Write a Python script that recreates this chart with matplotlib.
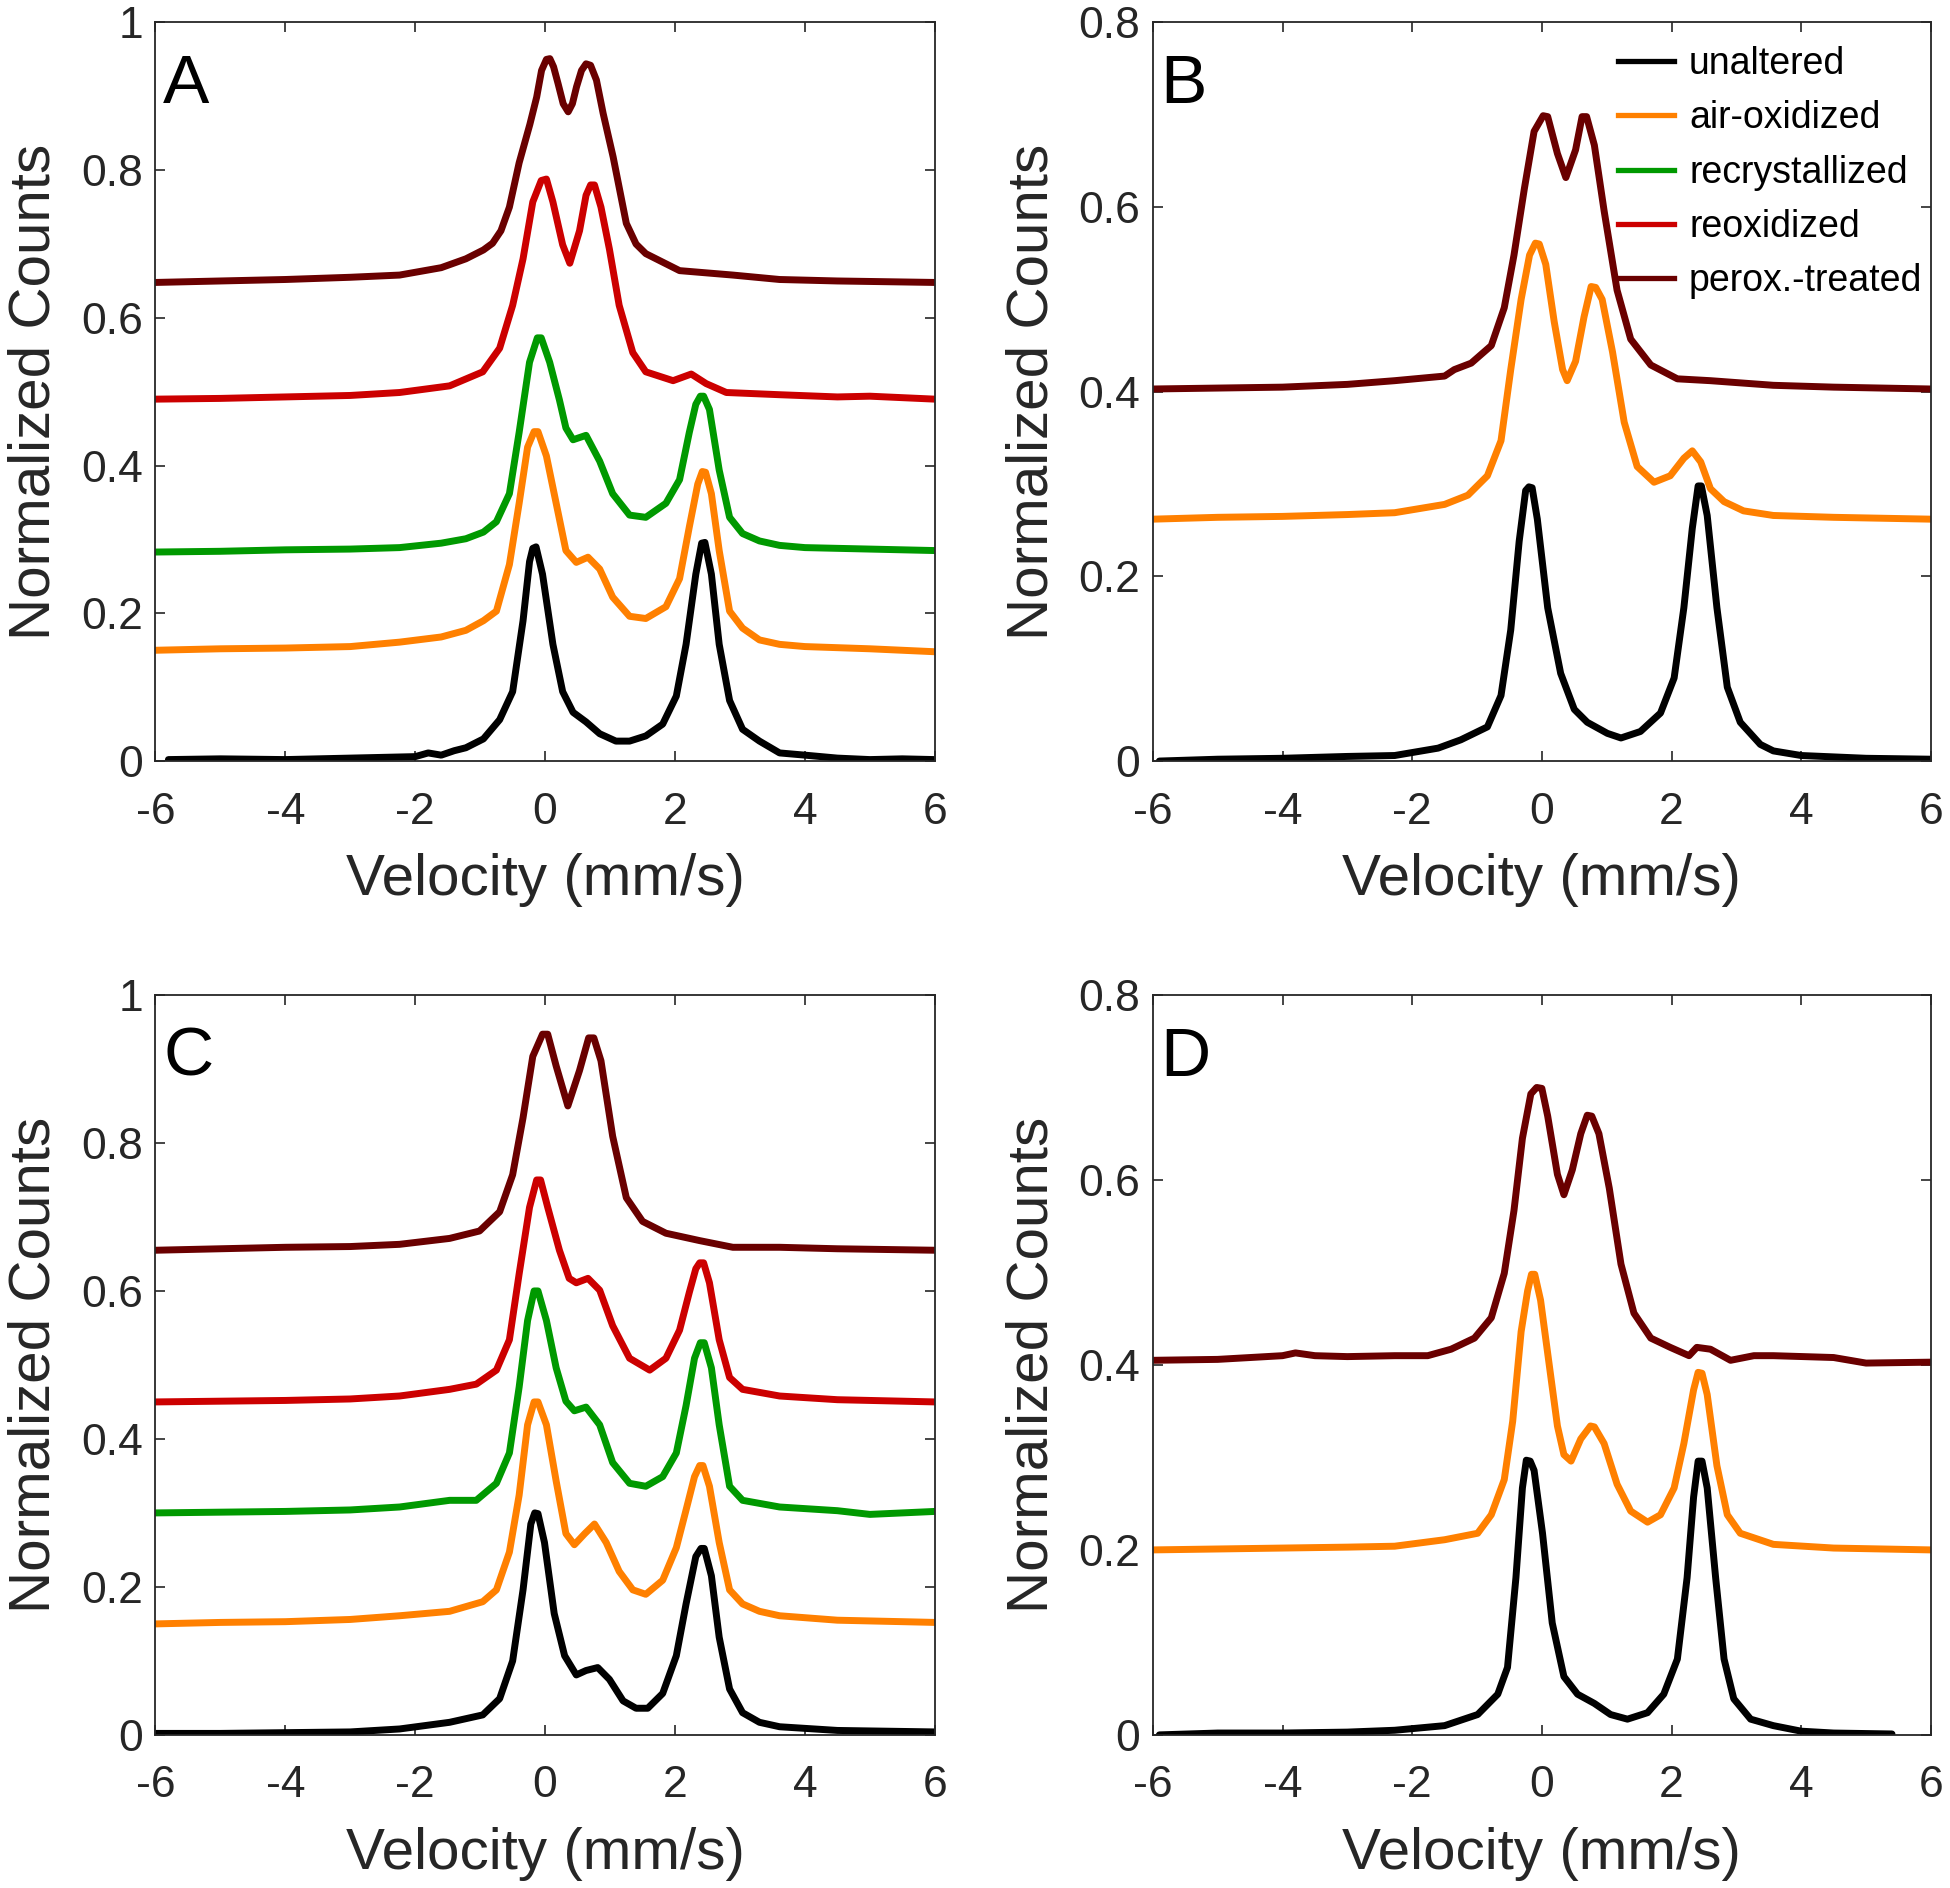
import matplotlib
matplotlib.use("Agg")
import matplotlib.pyplot as plt
from matplotlib.lines import Line2D
from matplotlib.ticker import FuncFormatter

plt.rcParams['font.family'] = ['Liberation Sans', 'DejaVu Sans']

# ---------------- data (velocity mm/s, normalized counts) ----------------
A_unaltered = [(-5.8,0.002),(-5,0.003),(-4,0.002),(-3,0.004),(-2,0.006),(-1.8,0.011),(-1.6,0.008),(-1.4,0.014),(-1.22,0.018),(-0.95,0.03),(-0.70,0.056),(-0.50,0.094),(-0.34,0.19),(-0.24,0.27),(-0.19,0.288),(-0.14,0.290),(-0.04,0.253),(0.12,0.158),(0.27,0.094),(0.43,0.066),(0.63,0.053),(0.84,0.037),(1.09,0.027),(1.30,0.027),(1.55,0.034),(1.81,0.05),(2.02,0.088),(2.17,0.158),(2.32,0.253),(2.41,0.295),(2.46,0.296),(2.56,0.253),(2.68,0.158),(2.84,0.082),(3.04,0.043),(3.30,0.027),(3.61,0.011),(4,0.008),(4.5,0.004),(5,0.002),(5.5,0.003),(6,0.002)]
A_air = [(-6,0.150),(-5,0.152),(-4,0.153),(-3,0.155),(-2.24,0.161),(-1.6,0.168),(-1.22,0.177),(-0.95,0.19),(-0.75,0.203),(-0.55,0.266),(-0.40,0.349),(-0.27,0.425),(-0.17,0.446),(-0.11,0.446),(0.02,0.413),(0.17,0.349),(0.32,0.285),(0.48,0.269),(0.66,0.276),(0.84,0.26),(1.04,0.222),(1.30,0.196),(1.55,0.193),(1.86,0.209),(2.07,0.247),(2.22,0.317),(2.35,0.375),(2.42,0.392),(2.47,0.391),(2.56,0.362),(2.68,0.285),(2.84,0.203),(3.04,0.18),(3.30,0.164),(3.61,0.158),(4,0.155),(5,0.152),(6,0.148)]
A_recryst = [(-6,0.283),(-5,0.284),(-4,0.286),(-3,0.287),(-2.24,0.289),(-1.6,0.295),(-1.22,0.301),(-0.95,0.31),(-0.75,0.324),(-0.55,0.362),(-0.40,0.445),(-0.24,0.54),(-0.12,0.573),(-0.06,0.573),(0.07,0.54),(0.22,0.489),(0.32,0.451),(0.43,0.435),(0.63,0.441),(0.84,0.406),(1.04,0.362),(1.30,0.333),(1.55,0.33),(1.86,0.349),(2.07,0.381),(2.22,0.445),(2.32,0.483),(2.39,0.494),(2.44,0.494),(2.53,0.476),(2.68,0.394),(2.84,0.33),(3.04,0.308),(3.30,0.298),(3.61,0.292),(4,0.289),(5,0.287),(6,0.285)]
A_reox = [(-6,0.490),(-5,0.491),(-4,0.493),(-3,0.495),(-2.24,0.499),(-1.47,0.508),(-0.96,0.527),(-0.70,0.559),(-0.50,0.617),(-0.34,0.68),(-0.19,0.757),(-0.06,0.786),(0.02,0.788),(0.12,0.757),(0.27,0.699),(0.38,0.674),(0.53,0.718),(0.63,0.766),(0.70,0.780),(0.76,0.780),(0.86,0.75),(0.99,0.693),(1.14,0.617),(1.35,0.553),(1.55,0.527),(1.97,0.515),(2.25,0.524),(2.48,0.511),(2.79,0.499),(3.61,0.496),(4.5,0.493),(5,0.494),(6,0.490)]
A_perox = [(-6,0.648),(-5,0.650),(-4,0.652),(-3,0.655),(-2.24,0.658),(-1.6,0.668),(-1.22,0.68),(-0.95,0.692),(-0.81,0.701),(-0.68,0.718),(-0.55,0.75),(-0.40,0.810),(-0.235,0.862),(-0.13,0.899),(-0.055,0.935),(0.02,0.950),(0.073,0.951),(0.13,0.940),(0.20,0.917),(0.278,0.890),(0.355,0.879),(0.42,0.89),(0.484,0.913),(0.56,0.935),(0.63,0.944),(0.70,0.942),(0.79,0.922),(0.893,0.877),(1.047,0.818),(1.25,0.728),(1.40,0.700),(1.55,0.687),(2.07,0.664),(2.89,0.658),(3.61,0.652),(4.5,0.650),(6,0.648)]

B_unaltered = [(-5.9,0.0),(-5,0.002),(-4,0.003),(-3,0.005),(-2.27,0.006),(-1.6,0.014),(-1.25,0.023),(-0.84,0.037),(-0.63,0.071),(-0.48,0.142),(-0.35,0.238),(-0.25,0.293),(-0.20,0.297),(-0.15,0.296),(-0.07,0.262),(0.09,0.166),(0.29,0.095),(0.50,0.056),(0.70,0.042),(1.01,0.03),(1.22,0.025),(1.52,0.032),(1.83,0.052),(2.04,0.09),(2.19,0.166),(2.32,0.252),(2.41,0.298),(2.46,0.298),(2.55,0.266),(2.70,0.166),(2.86,0.08),(3.06,0.042),(3.37,0.018),(3.57,0.011),(4,0.006),(5,0.003),(6,0.002)]
B_air = [(-6,0.262),(-5,0.264),(-4,0.265),(-3,0.267),(-2.27,0.269),(-1.50,0.278),(-1.14,0.288),(-0.84,0.309),(-0.63,0.347),(-0.48,0.424),(-0.32,0.50),(-0.19,0.548),(-0.10,0.561),(-0.04,0.560),(0.06,0.538),(0.19,0.476),(0.32,0.424),(0.39,0.412),(0.52,0.433),(0.65,0.481),(0.76,0.514),(0.83,0.513),(0.93,0.50),(1.09,0.443),(1.27,0.367),(1.47,0.319),(1.73,0.302),(1.98,0.309),(2.19,0.328),(2.32,0.336),(2.45,0.324),(2.60,0.295),(2.81,0.281),(3.11,0.271),(3.57,0.266),(4.5,0.264),(6,0.262)]
B_perox = [(-6,0.403),(-5,0.404),(-4,0.405),(-3,0.408),(-2.27,0.412),(-1.50,0.417),(-1.35,0.424),(-1.09,0.431),(-0.78,0.45),(-0.58,0.491),(-0.43,0.548),(-0.27,0.62),(-0.12,0.682),(0.02,0.699),(0.09,0.698),(0.24,0.658),(0.37,0.632),(0.52,0.662),(0.62,0.698),(0.69,0.698),(0.81,0.667),(0.96,0.596),(1.16,0.51),(1.37,0.457),(1.68,0.429),(2.09,0.414),(2.60,0.412),(3.57,0.407),(4.5,0.405),(6,0.403)]

C_unaltered = [(-6,0.002),(-5,0.002),(-4,0.003),(-3,0.004),(-2.24,0.008),(-1.47,0.017),(-0.96,0.027),(-0.70,0.049),(-0.50,0.10),(-0.34,0.196),(-0.22,0.285),(-0.16,0.300),(-0.11,0.299),(-0.01,0.26),(0.14,0.164),(0.30,0.107),(0.48,0.081),(0.63,0.087),(0.81,0.091),(0.99,0.075),(1.20,0.046),(1.40,0.036),(1.58,0.036),(1.81,0.056),(2.02,0.107),(2.17,0.177),(2.32,0.241),(2.40,0.252),(2.45,0.252),(2.56,0.215),(2.68,0.132),(2.84,0.062),(3.04,0.03),(3.30,0.017),(3.61,0.011),(4.5,0.006),(6,0.004)]
C_air = [(-6,0.150),(-5,0.152),(-4,0.153),(-3,0.156),(-2.24,0.161),(-1.47,0.167),(-0.96,0.18),(-0.75,0.196),(-0.55,0.247),(-0.40,0.324),(-0.27,0.419),(-0.17,0.450),(-0.11,0.450),(0.02,0.419),(0.17,0.343),(0.32,0.272),(0.45,0.257),(0.61,0.272),(0.76,0.285),(0.94,0.26),(1.14,0.221),(1.35,0.196),(1.55,0.19),(1.81,0.209),(2.02,0.253),(2.17,0.304),(2.30,0.349),(2.38,0.364),(2.43,0.364),(2.53,0.336),(2.68,0.26),(2.84,0.196),(3.04,0.177),(3.30,0.167),(3.61,0.161),(4.5,0.155),(6,0.152)]
C_recryst = [(-6,0.300),(-5,0.301),(-4,0.302),(-3,0.304),(-2.24,0.308),(-1.47,0.317),(-1.06,0.317),(-0.75,0.34),(-0.55,0.381),(-0.40,0.47),(-0.27,0.56),(-0.17,0.600),(-0.11,0.600),(0.02,0.56),(0.17,0.496),(0.32,0.451),(0.45,0.438),(0.63,0.443),(0.84,0.419),(1.04,0.368),(1.30,0.34),(1.55,0.336),(1.81,0.349),(2.02,0.381),(2.17,0.445),(2.30,0.509),(2.39,0.530),(2.45,0.530),(2.56,0.496),(2.68,0.419),(2.84,0.336),(3.04,0.317),(3.61,0.308),(4.5,0.303),(5,0.298),(6,0.302)]
C_reox = [(-6,0.450),(-5,0.451),(-4,0.452),(-3,0.454),(-2.24,0.458),(-1.47,0.467),(-1.06,0.474),(-0.75,0.493),(-0.55,0.534),(-0.40,0.623),(-0.24,0.713),(-0.13,0.750),(-0.07,0.750),(0.04,0.713),(0.22,0.655),(0.37,0.617),(0.48,0.611),(0.66,0.617),(0.84,0.601),(1.04,0.553),(1.30,0.509),(1.61,0.493),(1.86,0.509),(2.07,0.547),(2.22,0.598),(2.32,0.63),(2.38,0.638),(2.44,0.638),(2.53,0.611),(2.68,0.534),(2.84,0.483),(3.04,0.467),(3.61,0.458),(4.5,0.453),(6,0.450)]
C_perox = [(-6,0.655),(-5,0.657),(-4,0.659),(-3,0.660),(-2.24,0.663),(-1.47,0.671),(-1.01,0.681),(-0.70,0.707),(-0.50,0.757),(-0.34,0.834),(-0.19,0.917),(-0.04,0.947),(0.04,0.947),(0.17,0.904),(0.35,0.85),(0.53,0.898),(0.67,0.942),(0.75,0.942),(0.86,0.911),(1.04,0.809),(1.25,0.726),(1.50,0.694),(1.86,0.678),(2.38,0.668),(2.89,0.659),(3.61,0.659),(4.5,0.657),(6,0.655)]

D_unaltered = [(-5.9,0.0),(-5,0.002),(-4,0.002),(-3,0.003),(-2.27,0.005),(-1.50,0.01),(-0.99,0.022),(-0.68,0.044),(-0.53,0.073),(-0.40,0.17),(-0.30,0.267),(-0.24,0.297),(-0.18,0.296),(-0.12,0.286),(0.01,0.218),(0.16,0.121),(0.34,0.063),(0.55,0.044),(0.81,0.034),(1.06,0.022),(1.32,0.017),(1.63,0.024),(1.88,0.044),(2.09,0.082),(2.24,0.17),(2.34,0.257),(2.41,0.296),(2.47,0.296),(2.55,0.267),(2.68,0.17),(2.81,0.082),(2.96,0.039),(3.22,0.017),(3.57,0.01),(4,0.004),(4.5,0.002),(5.4,0.001)]
D_air = [(-6,0.200),(-5,0.201),(-4,0.202),(-3,0.203),(-2.27,0.204),(-1.50,0.211),(-0.99,0.218),(-0.78,0.238),(-0.58,0.276),(-0.45,0.339),(-0.32,0.436),(-0.22,0.48),(-0.16,0.498),(-0.11,0.498),(-0.02,0.47),(0.11,0.402),(0.24,0.334),(0.34,0.303),(0.45,0.296),(0.60,0.32),(0.75,0.334),(0.81,0.333),(0.96,0.315),(1.16,0.271),(1.37,0.242),(1.63,0.23),(1.83,0.238),(2.04,0.267),(2.19,0.315),(2.34,0.373),(2.41,0.392),(2.47,0.391),(2.55,0.368),(2.70,0.291),(2.86,0.238),(3.06,0.218),(3.57,0.206),(4.5,0.202),(6,0.200)]
D_perox = [(-6,0.405),(-5,0.406),(-4,0.410),(-3.8,0.413),(-3.5,0.410),(-3,0.409),(-2.27,0.41),(-1.76,0.41),(-1.40,0.417),(-1.04,0.429),(-0.78,0.451),(-0.58,0.499),(-0.43,0.567),(-0.30,0.645),(-0.17,0.693),(-0.08,0.700),(0.00,0.699),(0.09,0.669),(0.24,0.606),(0.34,0.584),(0.47,0.611),(0.60,0.65),(0.70,0.670),(0.77,0.669),(0.88,0.65),(1.04,0.591),(1.22,0.509),(1.42,0.456),(1.68,0.429),(1.98,0.419),(2.27,0.41),(2.39,0.419),(2.60,0.417),(2.91,0.405),(3.27,0.41),(3.57,0.41),(4.5,0.408),(5,0.402),(6,0.403)]

series_labels = ['unaltered', 'air-oxidized', 'recrystallized', 'reoxidized', 'perox.-treated']
series_colors = ['#000000', '#FF8000', '#009900', '#CC0000', '#6A0000']
x_ticks = [-6, -4, -2, 0, 2, 4, 6]

panels = [
    ('A', [0.0797, 0.5969, 0.3997, 0.3912], 1.0,
     {'unaltered': A_unaltered, 'air-oxidized': A_air, 'recrystallized': A_recryst,
      'reoxidized': A_reox, 'perox.-treated': A_perox}),
    ('B', [0.5912, 0.5969, 0.3990, 0.3912], 0.8,
     {'unaltered': B_unaltered, 'air-oxidized': B_air, 'perox.-treated': B_perox}),
    ('C', [0.0797, 0.0811, 0.3997, 0.3919], 1.0,
     {'unaltered': C_unaltered, 'air-oxidized': C_air, 'recrystallized': C_recryst,
      'reoxidized': C_reox, 'perox.-treated': C_perox}),
    ('D', [0.5912, 0.0811, 0.3990, 0.3919], 0.8,
     {'unaltered': D_unaltered, 'air-oxidized': D_air, 'perox.-treated': D_perox}),
]

def fmt(v, pos):
    s = ('%.1f' % v).rstrip('0').rstrip('.')
    return '0' if s in ('-0', '') else s

fig = plt.figure(figsize=(19.5, 18.88), dpi=100)
axcol = '#262626'
for letter, rect, ymax, curves in panels:
    ax = fig.add_axes(rect)
    for lab, col in zip(series_labels, series_colors):
        if lab in curves:
            pts = curves[lab]
            ax.plot([p[0] for p in pts], [p[1] for p in pts], color=col,
                    lw=5.0, solid_joinstyle='round', solid_capstyle='round')
    ax.set_xlim(-6, 6)
    ax.set_ylim(0, ymax)
    ax.set_xticks(x_ticks)
    ax.set_yticks([i * 0.2 for i in range(int(round(ymax / 0.2)) + 1)])
    ax.xaxis.set_major_formatter(FuncFormatter(fmt))
    ax.yaxis.set_major_formatter(FuncFormatter(fmt))
    ax.tick_params(direction='in', top=True, right=True, length=7, width=1.2,
                   labelsize=32, colors=axcol)
    ax.tick_params(axis='x', pad=22)
    ax.tick_params(axis='y', pad=9)
    for sp in ax.spines.values():
        sp.set_color(axcol)
        sp.set_linewidth(1.3)
    ax.set_xlabel('Velocity (mm/s)', fontsize=42, color=axcol, labelpad=15)
    ax.set_ylabel('Normalized Counts', fontsize=42, color=axcol, labelpad=14)
    ax.text(0.010, 0.915, letter, transform=ax.transAxes, fontsize=50,
            ha='left', va='center', color='black')
    if letter == 'B':
        handles = [Line2D([0], [0], color=c, lw=3.8) for c in series_colors]
        ax.legend(handles, series_labels, loc='upper right', bbox_to_anchor=(1.006, 0.986),
                  frameon=False, fontsize=27, handlelength=1.5, handletextpad=0.4,
                  labelspacing=0.49, borderaxespad=0.05, borderpad=0.3)

fig.savefig('out.png', dpi=100)
